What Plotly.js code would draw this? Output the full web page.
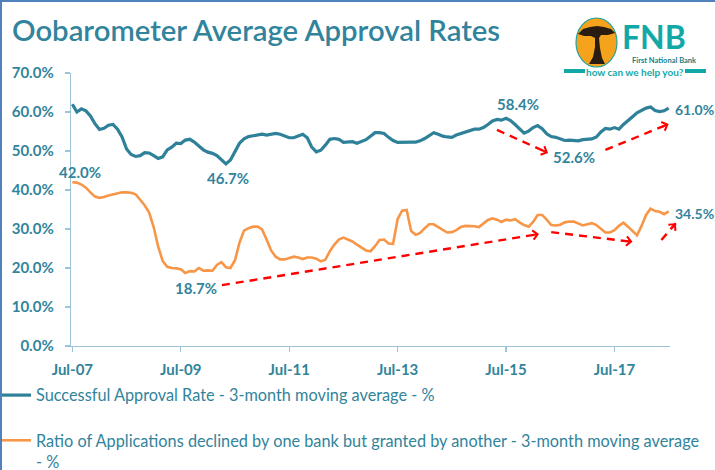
<!DOCTYPE html>
<html><head><meta charset="utf-8">
<script src="https://cdn.plot.ly/plotly-3.0.1.min.js"></script>
<style>
html,body{margin:0;padding:0;background:#fff;}
#chart{width:715px;height:470px;}
#frame{position:absolute;left:0;top:0;width:715px;height:470px;border-left:2px solid #4F81BD;border-top:2px solid #4F81BD;box-sizing:border-box;pointer-events:none;}
</style>
</head><body>
<div id="chart"></div><div id="frame"></div>
<script>
// ---------- DATA ----------
const monthNames = ['Jan','Feb','Mar','Apr','May','Jun','Jul','Aug','Sep','Oct','Nov','Dec'];
const approvalRate = [
 62.0, 60.0, 60.8, 60.3, 59.0, 57.0, 55.5, 55.8, 56.6, 56.8, 55.6, 53.6,
 50.5, 49.1, 48.6, 48.8, 49.6, 49.5, 48.8, 48.1, 48.5, 50.3, 51.0, 52.0,
 51.9, 52.8, 53.0, 52.3, 51.3, 50.3, 49.7, 49.4, 48.8, 47.7, 46.7, 47.7,
 50.0, 52.0, 53.1, 53.7, 53.9, 54.1, 54.3, 54.1, 54.3, 54.5, 54.3, 53.8,
 53.4, 53.4, 53.8, 54.3, 53.4, 51.0, 49.8, 50.2, 51.5, 53.0, 53.2, 53.0,
 52.2, 52.2, 52.4, 52.0, 52.4, 52.9, 53.8, 54.7, 54.7, 54.5, 53.5, 52.7,
 52.2, 52.3, 52.4, 52.3, 52.3, 52.6, 53.2, 54.0, 54.7, 54.3, 53.8, 53.6,
 53.5, 54.1, 54.5, 54.8, 55.3, 55.6, 55.6, 56.0, 56.8, 57.7, 58.1, 57.9,
 58.4, 57.8, 56.8, 55.6, 54.6, 55.1, 56.0, 56.5, 55.7, 54.4, 53.7, 53.5,
 53.1, 52.7, 52.8, 52.8, 52.6, 52.9, 53.0, 53.1, 53.6, 54.9, 55.8, 55.6,
 56.0, 55.6, 56.8, 57.9, 58.8, 59.8, 60.5, 61.0, 61.3, 60.4, 60.1, 60.3,
 61.0
];
const declinedRatio = [
 42.0, 41.9, 41.4, 40.6, 39.4, 38.3, 38.0, 38.2, 38.6, 38.9, 39.2, 39.4,
 39.4, 39.3, 38.9, 37.6, 36.1, 34.2, 30.5, 25.5, 21.8, 20.3, 20.0, 19.9,
 19.7, 18.7, 19.2, 19.1, 20.0, 19.3, 19.4, 19.3, 20.8, 21.5, 20.2, 20.0,
 22.0, 26.5, 29.6, 30.2, 30.6, 30.6, 29.9, 27.3, 24.5, 22.9, 22.2, 22.2,
 22.6, 22.9, 22.7, 22.3, 22.7, 22.7, 22.4, 21.7, 22.1, 24.3, 26.0, 27.3,
 27.8, 27.3, 26.8, 26.0, 25.3, 24.5, 24.3, 25.6, 27.2, 27.3, 26.3, 26.2,
 32.5, 34.7, 34.9, 29.5, 28.5, 29.0, 30.2, 31.2, 31.2, 30.6, 29.8, 29.1,
 29.2, 29.7, 30.5, 30.8, 30.8, 30.7, 30.5, 31.4, 32.3, 32.7, 32.4, 31.8,
 32.4, 32.2, 32.5, 31.7, 31.0, 30.6, 31.8, 33.6, 33.6, 32.4, 31.0, 30.9,
 31.1, 31.7, 31.9, 31.9, 31.5, 30.9, 31.2, 31.5, 31.0, 30.0, 29.1, 29.1,
 29.7, 30.8, 31.6, 30.6, 29.4, 28.4, 30.8, 33.6, 35.2, 34.6, 34.4, 33.8,
 34.5
];
const tickLabels = ['Jul-07','Jul-09','Jul-11','Jul-13','Jul-15','Jul-17'];
const seriesNames = [
 'Successful Approval Rate - 3-month moving average - %',
 'Ratio of Applications declined by one bank but granted by another - 3-month moving average<br>- %'
];
// value labels: [category index, value, text]
const valueLabels = [
 [0, 42.0, '42.0%'], [34, 46.7, '46.7%'], [25, 18.7, '18.7%'],
 [96, 58.4, '58.4%'], [112, 52.6, '52.6%'], [132, 61.0, '61.0%'], [132, 34.5, '34.5%']
];
// trend arrows: [from index, from value, to index, to value]
const trendArrows = [
 [33.1, 15.6, 103.3, 28.7], [106, 29.2, 124, 26.7], [130.4, 27.2, 133.6, 31.5],
 [94, 55.4, 105.3, 49.5], [118, 50.3, 132, 56.9]
];

// categories (months Jul-07 ..)
const months = approvalRate.map((_, i) => {
  const d = new Date(2007, 6 + i, 1);
  return monthNames[d.getMonth()] + '-' + String(d.getFullYear() % 100).padStart(2, '0');
});

// ---------- STYLE / LAYOUT ----------
const W = 715, H = 470, M = {l: 71, r: 45, t: 73, b: 124};
const pw = W - M.l - M.r, ph = H - M.t - M.b;
const xr = [-0.3, 132.3], yr = [0, 70];
const PX = x => (x - M.l) / pw, PY = y => (H - M.b - y) / ph;          // container px -> paper
const DX = v => (v - xr[0]) / (xr[1] - xr[0]), DY = v => (v - yr[0]) / (yr[1] - yr[0]); // axis value -> paper
const FONT = 'Lato, "Open Sans", sans-serif';
const TEAL = '#31849B', BLUE = '#2E8199', ORANGE = '#F79646', AXIS = '#9DC3D6', RED = '#FF0000';
const LOGO = '#13A8A8';

const traces = [
  {x: months, y: approvalRate, type: 'scatter', mode: 'lines', name: seriesNames[0],
   legendgroup: 'a', line: {color: BLUE, width: 3.2}, hoverinfo: 'skip'},
  {x: months, y: declinedRatio, type: 'scatter', mode: 'lines', name: seriesNames[1],
   legendgroup: 'b', line: {color: ORANGE, width: 2.6}, hoverinfo: 'skip'}
];

const labelOffsets = [[8, 10, 'center'], [2, -14, 'center'], [11, -15, 'center'], [12, 14, 'center'],
                      [-4, -16, 'center'], [4, -1, 'left'], [4, -2, 'left']];
const annotations = valueLabels.map((v, i) => ({
  x: v[0], y: v[1], xref: 'x', yref: 'y', text: v[2], showarrow: false,
  xanchor: labelOffsets[i][2], yanchor: 'middle', xshift: labelOffsets[i][0], yshift: labelOffsets[i][1],
  font: {family: FONT, size: i >= 5 ? 14 : 15, color: TEAL, weight: 'bold'}
}));

const kx = pw / (xr[1] - xr[0]), ky = ph / (yr[1] - yr[0]);
const shapes = [];
trendArrows.forEach(a => {
  shapes.push({type: 'line', xref: 'paper', yref: 'paper', x0: DX(a[0]), y0: DY(a[1]), x1: DX(a[2]), y1: DY(a[3]),
    line: {color: RED, width: 2.4, dash: '8px,6px'}});
  const dx = (a[2] - a[0]) * kx, dy = -(a[3] - a[1]) * ky, L = Math.hypot(dx, dy);
  annotations.push({x: DX(a[2]), y: DY(a[3]), xref: 'paper', yref: 'paper', text: '', showarrow: true,
    axref: 'pixel', ayref: 'pixel', ax: -dx / L * 9, ay: -dy / L * 9,
    arrowhead: 4, arrowsize: 0.9, arrowwidth: 2, arrowcolor: RED});
});

// FNB logo (decoration)
shapes.push({type: 'circle', xref: 'paper', yref: 'paper', x0: PX(576), x1: PX(617), y0: PY(67), y1: PY(18),
  fillcolor: '#F5A21C', line: {color: '#1FA3A0', width: 1.2}, layer: 'above'});
const tree = [[578,34],[583,29],[590,27],[597,26],[604,27],[611,29],[615,33],[608,35],[601,35],[599,38],[600,48],[602,58],[605,64],[589,64],[593,57],[595,47],[595,38],[591,36],[584,36]];
shapes.push({type: 'path', xref: 'paper', yref: 'paper', layer: 'above',
  path: 'M' + tree.map(p => PX(p[0]).toFixed(4) + ',' + PY(p[1]).toFixed(4)).join('L') + 'Z',
  fillcolor: '#2A1C10', line: {width: 0}});
shapes.push({type: 'line', xref: 'paper', yref: 'paper', x0: PX(564), x1: PX(585), y0: PY(71), y1: PY(71),
  line: {color: LOGO, width: 4}});
shapes.push({type: 'line', xref: 'paper', yref: 'paper', x0: PX(685), x1: PX(706), y0: PY(71), y1: PY(71),
  line: {color: LOGO, width: 4}});
annotations.push({xref: 'paper', yref: 'paper', x: PX(620), y: PY(36), xanchor: 'left', yanchor: 'middle',
  text: 'FNB', showarrow: false, font: {family: FONT, size: 32, color: LOGO, weight: 'bold'}});
annotations.push({xref: 'paper', yref: 'paper', x: PX(664), y: PY(61), xanchor: 'center', yanchor: 'middle',
  text: 'First National Bank', showarrow: false, font: {family: FONT, size: 7.5, color: '#167F86', weight: 'bold'}});
annotations.push({xref: 'paper', yref: 'paper', x: PX(635), y: PY(71.5), xanchor: 'center', yanchor: 'middle',
  text: 'how can we help you?', showarrow: false, font: {family: FONT, size: 10, color: LOGO, weight: 'bold'}});

const layout = {
  width: W, height: H, margin: Object.assign({autoexpand: false}, M), paper_bgcolor: '#fff', plot_bgcolor: '#fff',
  font: {family: FONT, color: TEAL},
  title: {text: 'Oobarometer Average Approval Rates', xref: 'container', x: 12 / W, xanchor: 'left',
          yref: 'container', y: 1 - 31 / H, yanchor: 'middle',
          font: {family: FONT, size: 29.3, color: TEAL, weight: 600}},
  xaxis: {type: 'category', range: xr, tickmode: 'array', tickvals: tickLabels, ticktext: tickLabels,
          showgrid: false, zeroline: false, showline: true, linecolor: AXIS, linewidth: 1.3,
          ticks: 'outside', ticklen: 5, tickcolor: AXIS, tickwidth: 1.3, ticklabelstandoff: 5, tickangle: 0,
          automargin: false,
          tickfont: {family: FONT, size: 15, color: TEAL, weight: 'bold'}},
  yaxis: {range: yr, dtick: 10, tick0: 0, tickformat: '.1f', ticksuffix: '%', automargin: false,
          showgrid: false, zeroline: false, showline: true, linecolor: AXIS, linewidth: 1.3,
          ticks: 'outside', ticklen: 5, tickcolor: AXIS, tickwidth: 1.3, ticklabelstandoff: 8,
          tickfont: {family: FONT, size: 15, color: TEAL, weight: 'bold'}},
  showlegend: true,
  legend: {xref: 'paper', yref: 'paper', x: PX(-4), y: PY(378), xanchor: 'left', yanchor: 'top',
           traceorder: 'grouped', tracegroupgap: 21, valign: 'top', bgcolor: 'rgba(0,0,0,0)',
           font: {family: FONT, size: 16.3, color: TEAL}},
  annotations: annotations, shapes: shapes
};

Plotly.newPlot('chart', traces, layout, {displayModeBar: false, staticPlot: true});
</script>
</body></html>
